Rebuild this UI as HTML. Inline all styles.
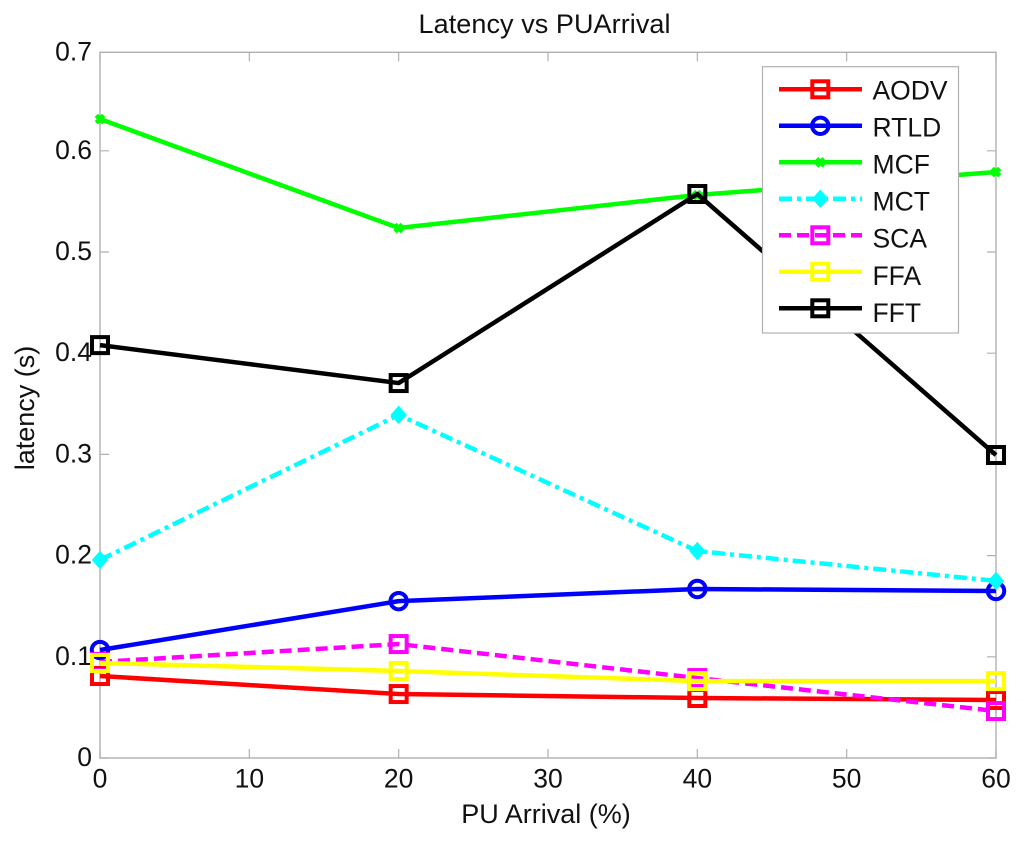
<!DOCTYPE html>
<html lang="en">
<head>
<meta charset="utf-8">
<title>Latency vs PUArrival</title>
<style>
html,body{margin:0;padding:0;background:#fff;width:1024px;height:843px;overflow:hidden}
svg{display:block;filter:blur(0.35px)}
text{font-family:"Liberation Sans",sans-serif;fill:#111}
</style>
</head>
<body>
<svg id="chart" xmlns="http://www.w3.org/2000/svg" width="1024" height="843" viewBox="0 0 1024 843">
<rect x="0" y="0" width="1024" height="843" fill="#fff"/>
<text x="544.5" y="33" font-size="27" text-anchor="middle" textLength="252" lengthAdjust="spacing">Latency vs PUArrival</text>
<text x="546" y="823" font-size="27" text-anchor="middle">PU Arrival (%)</text>
<text transform="translate(34 408) rotate(-90)" font-size="27" text-anchor="middle">latency (s)</text>
<g id="axes"></g>
<g id="series"></g>
<g id="legend"></g>
</svg>
<script>
const categories = [0, 20, 40, 60];
const aodvValues = [0.081, 0.0632, 0.0593, 0.0573];
const rtldValues = [0.1067, 0.155, 0.167, 0.165];
const mcfValues = [0.6314, 0.5237, 0.5563, 0.579];
const mctValues = [0.1957, 0.339, 0.2045, 0.175];
const scaValues = [0.0949, 0.1126, 0.079, 0.0464];
const ffaValues = [0.0939, 0.086, 0.076, 0.076];
const fftValues = [0.408, 0.3705, 0.5573, 0.2994];
const xTickLabels = [0, 10, 20, 30, 40, 50, 60];
const yTickLabels = [0, 0.1, 0.2, 0.3, 0.4, 0.5, 0.6, 0.7];
const seriesNames = ['AODV', 'RTLD', 'MCF', 'MCT', 'SCA', 'FFA', 'FFT'];

const NS = 'http://www.w3.org/2000/svg';
const plotLeft = 100, plotRight = 996, plotTop = 52.3, plotBottom = 758;
const yUnit = 1012;
const xScale = v => plotLeft + v / 60 * (plotRight - plotLeft);
const yScale = v => plotBottom - v * yUnit;
const axisColor = '#b0b0b0';

function el(tag, attrs, parent) {
  const n = document.createElementNS(NS, tag);
  for (const k in attrs) n.setAttribute(k, attrs[k]);
  parent.appendChild(n);
  return n;
}

const styles = [
  {color: '#ff0000', dash: '', marker: 'square'},
  {color: '#0000ff', dash: '', marker: 'circle'},
  {color: '#00ff00', dash: '', marker: 'cross'},
  {color: '#00ffff', dash: '13 5 4 5', marker: 'diamond'},
  {color: '#ff00ff', dash: '12 6', marker: 'square'},
  {color: '#ffff00', dash: '', marker: 'square'},
  {color: '#000000', dash: '', marker: 'square'}
];
const allValues = [aodvValues, rtldValues, mcfValues, mctValues, scaValues, ffaValues, fftValues];

function drawMarker(kind, cx, cy, color, parent) {
  let m;
  if (kind === 'square') {
    m = el('rect', {x: cx - 8, y: cy - 8, width: 16, height: 16, fill: 'none', stroke: color, 'stroke-width': 4}, parent);
  } else if (kind === 'circle') {
    m = el('circle', {cx: cx, cy: cy, r: 8.2, fill: 'none', stroke: color, 'stroke-width': 4}, parent);
  } else if (kind === 'cross') {
    m = el('path', {d: `M${cx - 3.7} ${cy - 3.7}L${cx + 3.7} ${cy + 3.7}M${cx - 3.7} ${cy + 3.7}L${cx + 3.7} ${cy - 3.7}`, fill: 'none', stroke: color, 'stroke-width': 4.6}, parent);
  } else {
    m = el('path', {d: `M${cx} ${cy - 8.5}L${cx + 7.5} ${cy}L${cx} ${cy + 8.5}L${cx - 7.5} ${cy}Z`, fill: color, stroke: color, 'stroke-width': 1}, parent);
  }
  return m;
}

/* axes */
const axes = document.getElementById('axes');
const frame = el('rect', {x: plotLeft, y: plotTop, width: plotRight - plotLeft, height: plotBottom - plotTop, fill: '#fff', stroke: axisColor, 'stroke-width': 1.4}, axes);



xTickLabels.forEach(t => {
  const x = xScale(t);
  const xTick = el('path', {d: `M${x} ${plotBottom}V${plotBottom - 9}M${x} ${plotTop}V${plotTop + 9}`, stroke: axisColor, 'stroke-width': 1.2, fill: 'none'}, axes);
  
  
  const label = el('text', {x: x, y: 787.5, 'font-size': 26.5, 'text-anchor': 'middle'}, axes);
  label.textContent = String(t);
  
  
});
yTickLabels.forEach(t => {
  const y = Math.max(yScale(t), plotTop);
  const yTick = el('path', {d: `M${plotLeft} ${y}H${plotLeft + 9}M${plotRight} ${y}H${plotRight - 9}`, stroke: axisColor, 'stroke-width': 1.2, fill: 'none'}, axes);
  
  
  const label = el('text', {x: 92, y: y + 8, 'font-size': 26.5, 'text-anchor': 'end'}, axes);
  label.textContent = String(t);
  
  
});

/* series */
const seriesGroup = document.getElementById('series');
seriesNames.forEach((name, i) => {
  const g = el('g', {}, seriesGroup);
  
  
  const pts = categories.map((c, j) => [xScale(c), yScale(allValues[i][j])]);
  const line = el('polyline', {points: pts.map(p => p.join(',')).join(' '), fill: 'none', stroke: styles[i].color, 'stroke-width': 4.5, 'stroke-linejoin': 'round'}, g);
  if (styles[i].dash) line.setAttribute('stroke-dasharray', styles[i].dash);
  
  
  pts.forEach(p => {
    const m = drawMarker(styles[i].marker, p[0], p[1], styles[i].color, g);
    
    
  });
});

/* legend */
const legend = document.getElementById('legend');
const box = el('rect', {x: 762.5, y: 66.7, width: 196, height: 266.3, fill: '#fff', stroke: axisColor, 'stroke-width': 1.2}, legend);


seriesNames.forEach((name, i) => {
  const ly = 89.3 + i * 36.5;
  const g = el('g', {}, legend);
  
  
  const line = el('line', {x1: 779, x2: 862, y1: ly, y2: ly, stroke: styles[i].color, 'stroke-width': 4.5}, g);
  if (styles[i].dash) line.setAttribute('stroke-dasharray', styles[i].dash);
  
  
  const m = drawMarker(styles[i].marker, 820.3, ly, styles[i].color, g);
  
  
  const t = el('text', {x: 872.5, y: 99.3 + i * 37.1, 'font-size': 26.5}, g);
  t.textContent = name;
  
  
});
</script>
</body>
</html>
